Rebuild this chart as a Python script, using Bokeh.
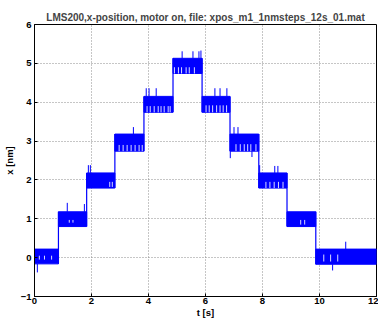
from bokeh.plotting import figure
from bokeh.models import Range1d, FixedTicker
from bokeh.embed import file_html
from bokeh.resources import INLINE

# ---- data ----
title_text = "LMS200,x-position, motor on, file: xpos_m1_1nmsteps_12s_01.mat"
x_ticks = [0, 2, 4, 6, 8, 10, 12]
y_ticks = [-1, 0, 1, 2, 3, 4, 5, 6]

# step segments (dense noise band per position level)
levels = [0, 1, 2, 3, 4, 5, 4, 3, 2, 1, 0]
t_edges = [0.0, 0.84, 1.83, 2.82, 3.84, 4.86, 5.88, 6.86, 7.87, 8.86, 9.87, 12.0]
band_top = [0.22, 1.18, 2.18, 3.18, 4.15, 5.13, 4.15, 3.18, 2.18, 1.18, 0.22]
band_bottom = [-0.16, 0.80, 1.79, 2.74, 3.74, 4.74, 3.74, 2.74, 1.79, 0.80, -0.17]

# isolated noise spikes beyond the band
spike_t = [0.10, 1.15, 1.75, 1.89, 1.96, 3.47, 3.92, 4.02, 4.27, 5.18, 5.56,
           5.77, 5.84, 6.33, 6.51, 6.75, 7.00, 7.14, 6.87, 7.63, 7.90, 8.43,
           8.54, 10.46, 10.92]
spike_lo = [-0.38, 1.18, 1.18, 2.18, 2.18, 3.18, 4.15, 4.15, 4.15, 5.13, 5.13,
            5.13, 5.13, 4.15, 4.15, 4.15, 3.18, 3.18, 2.56, 2.59, 2.18, 2.18,
            2.18, -0.33, 0.22]
spike_hi = [-0.16, 1.41, 1.38, 2.38, 2.38, 3.36, 4.36, 4.36, 4.36, 5.31, 5.31,
            5.31, 5.33, 4.36, 4.36, 4.36, 3.36, 3.36, 2.74, 2.74, 2.38, 2.36,
            2.36, -0.17, 0.41]

# sparse columns inside the bands (show up white)
gap_t = [0.17, 0.35, 0.60, 1.22, 1.35, 2.64, 2.73,
         2.97, 3.11, 3.25, 3.39, 3.53, 3.67, 3.78,
         3.95, 4.06, 4.20, 4.34, 4.44, 4.55, 4.69, 4.76,
         4.91, 5.05, 5.16, 5.32, 5.43, 5.61,
         6.02, 6.13, 6.25, 6.39, 6.51, 6.62, 6.74,
         7.07, 7.22, 7.36, 7.48, 7.59, 7.77,
         8.12, 8.26, 8.41, 8.56, 8.72,
         9.34, 9.48, 10.15, 10.39, 10.64]
gap_lo = [-0.05, -0.05, -0.05, 0.90, 0.90, 1.82, 1.82] + [2.74] * 7 + [3.74] * 8 + \
         [4.74] * 6 + [3.74] * 7 + [2.74] * 6 + [1.79] * 5 + [0.85, 0.85] + [-0.10] * 3
gap_hi = [0.05, 0.05, 0.05, 0.97, 0.97, 1.95, 1.95] + [2.90] * 7 + [3.90] * 8 + \
         [4.90] * 6 + [3.92] * 7 + [2.92] * 6 + [1.95] * 5 + [0.97, 0.97] + [0.08] * 3

# ---- figure ----
FONT = "Liberation Sans"
BLUE = "#0000ff"

p = figure(width=378, height=320,
           x_range=Range1d(0, 12), y_range=Range1d(-1, 6),
           output_backend="svg", toolbar_location=None,
           min_border_left=33, min_border_right=2, min_border_top=24,
           min_border_bottom=23, background_fill_color="white",
           border_fill_color="white", outline_line_color="black",
           outline_line_width=1)

p.title.text = title_text
p.title.text_font = FONT
p.title.text_font_size = "10px"
p.title.text_font_style = "bold"
p.title.align = "center"
p.title.standoff = 4

p.xaxis.ticker = FixedTicker(ticks=x_ticks)
p.yaxis.ticker = FixedTicker(ticks=y_ticks)
for ax in (p.xaxis[0], p.yaxis[0]):
    ax.major_tick_in = 3
    ax.major_tick_out = 0
    ax.minor_tick_line_color = None
    ax.axis_line_color = "black"
    ax.major_tick_line_color = "black"
    ax.major_label_text_font = FONT
    ax.major_label_text_font_size = "9.5px"
    ax.major_label_text_font_style = "bold"
    ax.major_label_text_color = "black"
    ax.axis_label_text_font = FONT
    ax.axis_label_text_font_size = "9.5px"
    ax.axis_label_text_font_style = "bold"
    ax.axis_label_text_color = "black"
p.xaxis.major_label_standoff = 1
p.xaxis.axis_label_standoff = 0
p.yaxis.major_label_standoff = 3
p.yaxis.axis_label_standoff = 3
p.xaxis.axis_label = "t [s]"
p.yaxis.axis_label = "x [nm]"

p.xgrid.ticker = FixedTicker(ticks=x_ticks)
p.ygrid.ticker = FixedTicker(ticks=y_ticks)
p.grid.grid_line_color = "#8c8c8c"
p.grid.grid_line_dash = "1 2"
p.grid.grid_line_width = 1

# noise bands
p.quad(left=t_edges[:-1], right=t_edges[1:], bottom=band_bottom, top=band_top,
       fill_color=BLUE, line_color=BLUE, line_width=1)

# step transitions
tr_x = t_edges[1:-1]
tr_lo = [min(band_bottom[i], band_bottom[i + 1]) for i in range(len(levels) - 1)]
tr_hi = [max(band_top[i], band_top[i + 1]) for i in range(len(levels) - 1)]
p.segment(x0=tr_x, x1=tr_x, y0=tr_lo, y1=tr_hi, line_color=BLUE, line_width=1.2)

# sparse columns
p.segment(x0=gap_t, x1=gap_t, y0=gap_lo, y1=gap_hi, line_color="white",
          line_width=1, line_alpha=0.85)

# spikes
p.segment(x0=spike_t, x1=spike_t, y0=spike_lo, y1=spike_hi, line_color=BLUE,
          line_width=1)

open("out.html", "w").write(file_html(p, INLINE))
